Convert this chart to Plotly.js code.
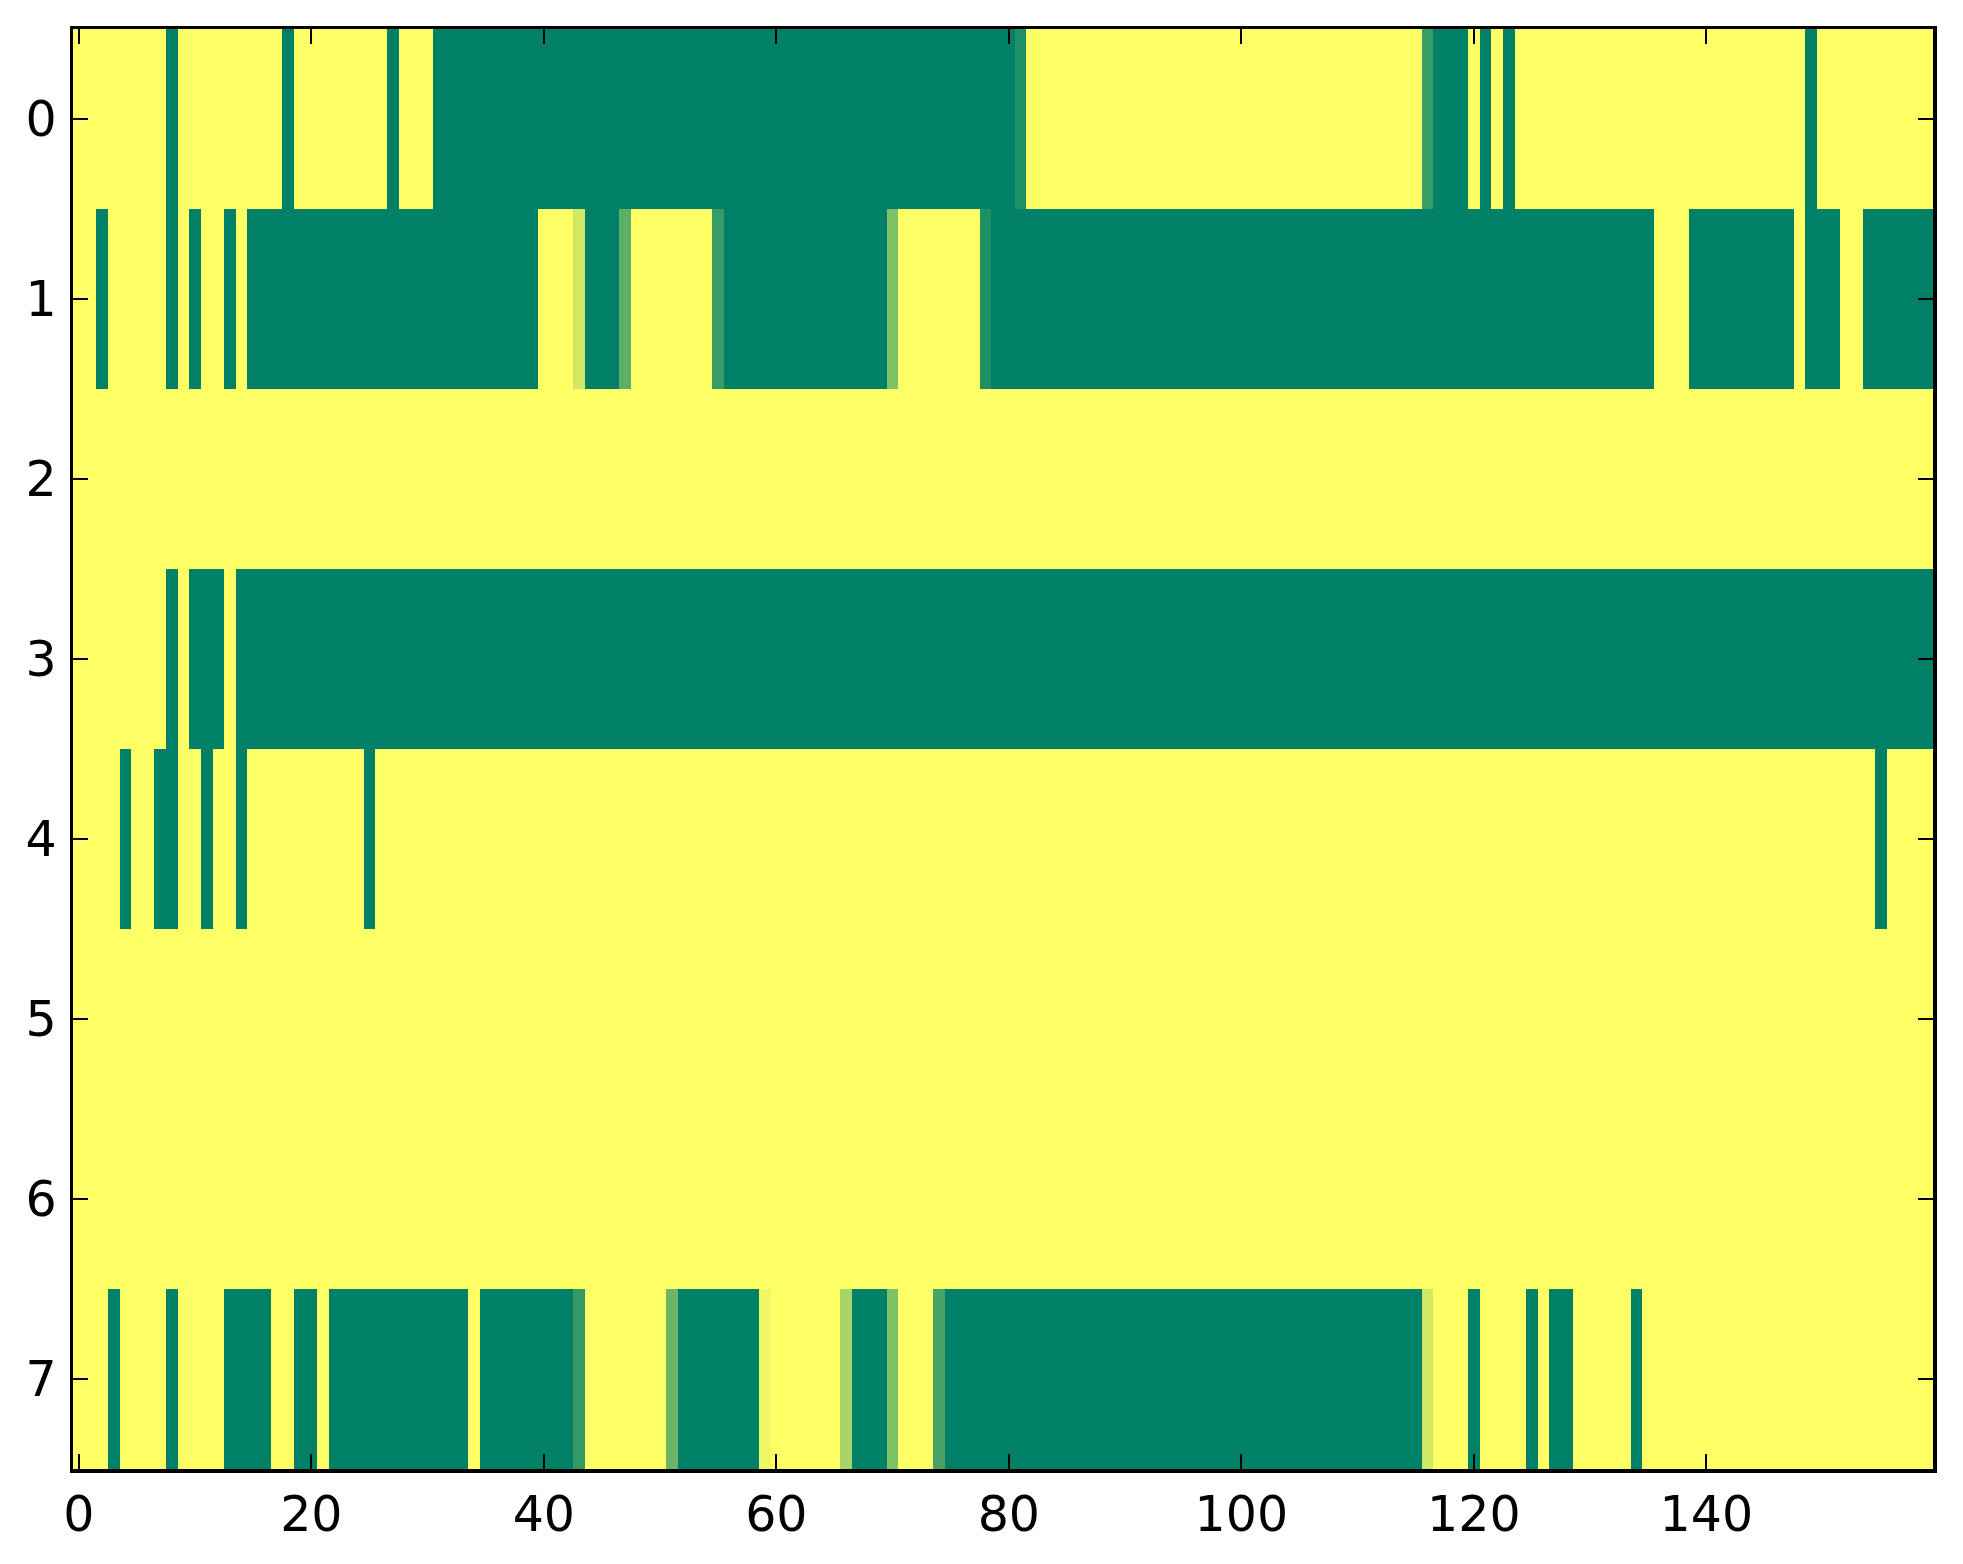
<!DOCTYPE html>
<html>
<head>
<meta charset="utf-8">
<script src="https://cdn.plot.ly/plotly-3.0.1.min.js"></script>
<style>
  html, body { margin: 0; padding: 0; background: #ffffff; }
  #chart { width: 1963px; height: 1564px; }
</style>
</head>
<body>
<div id="chart"></div>
<script>
// Row values (0 = green end, 1 = yellow end of the "summer" colormap), columns 0..159
const row0 = [
  1,1,1,1,1,1,1,1,0,1, 1,1,1,1,1,1,1,1,0,1,
  1,1,1,1,1,1,1,0,1,1, 1,0,0,0,0,0,0,0,0,0,
  0,0,0,0,0,0,0,0,0,0, 0,0,0,0,0,0,0,0,0,0,
  0,0,0,0,0,0,0,0,0,0, 0,0,0,0,0,0,0,0,0,0,
  0,0.12,1,1,1,1,1,1,1,1, 1,1,1,1,1,1,1,1,1,1,
  1,1,1,1,1,1,1,1,1,1, 1,1,1,1,1,1,0.22,0,0,0,
  1,0,1,0,1,1,1,1,1,1, 1,1,1,1,1,1,1,1,1,1,
  1,1,1,1,1,1,1,1,1,0, 1,1,1,1,1,1,1,1,1,1
];
const row1 = [
  1,1,0,1,1,1,1,1,0,1, 0,1,1,0,1,0,0,0,0,0,
  0,0,0,0,0,0,0,0,0,0, 0,0,0,0,0,0,0,0,0,0,
  1,1,1,0.82,0,0,0,0.37,1,1, 1,1,1,1,1,0.22,0,0,0,0,
  0,0,0,0,0,0,0,0,0,0, 0.5,1,1,1,1,1,1,1,0.12,0,
  0,0,0,0,0,0,0,0,0,0, 0,0,0,0,0,0,0,0,0,0,
  0,0,0,0,0,0,0,0,0,0, 0,0,0,0,0,0,0,0,0,0,
  0,0,0,0,0,0,0,0,0,0, 0,0,0,0,0,0,1,1,1,0,
  0,0,0,0,0,0,0,0,1,0, 0,0,1,1,0,0,0,0,0,0
];
const row2 = [
  1,1,1,1,1,1,1,1,1,1, 1,1,1,1,1,1,1,1,1,1,
  1,1,1,1,1,1,1,1,1,1, 1,1,1,1,1,1,1,1,1,1,
  1,1,1,1,1,1,1,1,1,1, 1,1,1,1,1,1,1,1,1,1,
  1,1,1,1,1,1,1,1,1,1, 1,1,1,1,1,1,1,1,1,1,
  1,1,1,1,1,1,1,1,1,1, 1,1,1,1,1,1,1,1,1,1,
  1,1,1,1,1,1,1,1,1,1, 1,1,1,1,1,1,1,1,1,1,
  1,1,1,1,1,1,1,1,1,1, 1,1,1,1,1,1,1,1,1,1,
  1,1,1,1,1,1,1,1,1,1, 1,1,1,1,1,1,1,1,1,1
];
const row3 = [
  1,1,1,1,1,1,1,1,0,1, 0,0,0,1,0,0,0,0,0,0,
  0,0,0,0,0,0,0,0,0,0, 0,0,0,0,0,0,0,0,0,0,
  0,0,0,0,0,0,0,0,0,0, 0,0,0,0,0,0,0,0,0,0,
  0,0,0,0,0,0,0,0,0,0, 0,0,0,0,0,0,0,0,0,0,
  0,0,0,0,0,0,0,0,0,0, 0,0,0,0,0,0,0,0,0,0,
  0,0,0,0,0,0,0,0,0,0, 0,0,0,0,0,0,0,0,0,0,
  0,0,0,0,0,0,0,0,0,0, 0,0,0,0,0,0,0,0,0,0,
  0,0,0,0,0,0,0,0,0,0, 0,0,0,0,0,0,0,0,0,0
];
const row4 = [
  1,1,1,1,0,1,1,0,0,1, 1,0,1,1,0,1,1,1,1,1,
  1,1,1,1,1,0,1,1,1,1, 1,1,1,1,1,1,1,1,1,1,
  1,1,1,1,1,1,1,1,1,1, 1,1,1,1,1,1,1,1,1,1,
  1,1,1,1,1,1,1,1,1,1, 1,1,1,1,1,1,1,1,1,1,
  1,1,1,1,1,1,1,1,1,1, 1,1,1,1,1,1,1,1,1,1,
  1,1,1,1,1,1,1,1,1,1, 1,1,1,1,1,1,1,1,1,1,
  1,1,1,1,1,1,1,1,1,1, 1,1,1,1,1,1,1,1,1,1,
  1,1,1,1,1,1,1,1,1,1, 1,1,1,1,1,0,1,1,1,1
];
const row5 = [
  1,1,1,1,1,1,1,1,1,1, 1,1,1,1,1,1,1,1,1,1,
  1,1,1,1,1,1,1,1,1,1, 1,1,1,1,1,1,1,1,1,1,
  1,1,1,1,1,1,1,1,1,1, 1,1,1,1,1,1,1,1,1,1,
  1,1,1,1,1,1,1,1,1,1, 1,1,1,1,1,1,1,1,1,1,
  1,1,1,1,1,1,1,1,1,1, 1,1,1,1,1,1,1,1,1,1,
  1,1,1,1,1,1,1,1,1,1, 1,1,1,1,1,1,1,1,1,1,
  1,1,1,1,1,1,1,1,1,1, 1,1,1,1,1,1,1,1,1,1,
  1,1,1,1,1,1,1,1,1,1, 1,1,1,1,1,1,1,1,1,1
];
const row6 = [
  1,1,1,1,1,1,1,1,1,1, 1,1,1,1,1,1,1,1,1,1,
  1,1,1,1,1,1,1,1,1,1, 1,1,1,1,1,1,1,1,1,1,
  1,1,1,1,1,1,1,1,1,1, 1,1,1,1,1,1,1,1,1,1,
  1,1,1,1,1,1,1,1,1,1, 1,1,1,1,1,1,1,1,1,1,
  1,1,1,1,1,1,1,1,1,1, 1,1,1,1,1,1,1,1,1,1,
  1,1,1,1,1,1,1,1,1,1, 1,1,1,1,1,1,1,1,1,1,
  1,1,1,1,1,1,1,1,1,1, 1,1,1,1,1,1,1,1,1,1,
  1,1,1,1,1,1,1,1,1,1, 1,1,1,1,1,1,1,1,1,1
];
const row7 = [
  1,1,1,0,1,1,1,1,0,1, 1,1,1,0,0,0,0,1,1,0,
  0,1,0,0,0,0,0,0,0,0, 0,0,0,0,1,0,0,0,0,0,
  0,0,0,0.2,1,1,1,1,1,1, 1,0.42,0,0,0,0,0,0,0,0.94,
  1,1,1,1,1,1,0.66,0,0,0, 0.5,1,1,1,0.28,0,0,0,0,0,
  0,0,0,0,0,0,0,0,0,0, 0,0,0,0,0,0,0,0,0,0,
  0,0,0,0,0,0,0,0,0,0, 0,0,0,0,0,0,0.82,1,1,1,
  0,1,1,1,1,0,1,0,0,1, 1,1,1,1,0,1,1,1,1,1,
  1,1,1,1,1,1,1,1,1,1, 1,1,1,1,1,1,1,1,1,1
];

const rowLabels = [0, 1, 2, 3, 4, 5, 6, 7];
const xTickVals = [0, 20, 40, 60, 80, 100, 120, 140];

const zData = [row0, row1, row2, row3, row4, row5, row6, row7];
const nCols = row0.length;

const summer = [[0, 'rgb(0,128,102)'], [1, 'rgb(255,255,102)']];

const axisFont = { family: 'DejaVu Sans, sans-serif', size: 49, color: '#000000' };

const commonAxis = {
  showgrid: false,
  zeroline: false,
  showline: true,
  linecolor: '#000000',
  linewidth: 3.5,
  mirror: 'ticks',
  ticks: 'inside',
  ticklen: 15,
  tickwidth: 2,
  tickcolor: '#000000',
  tickfont: axisFont,
  fixedrange: true
};

const trace = {
  type: 'heatmap',
  z: zData,
  y: rowLabels,
  colorscale: summer,
  zmin: 0,
  zmax: 1,
  showscale: false,
  hoverinfo: 'skip',
  xgap: 0,
  ygap: 0
};

const layout = {
  width: 1963,
  height: 1564,
  margin: { l: 73, r: 30, t: 29, b: 95, pad: 0 },
  paper_bgcolor: '#ffffff',
  plot_bgcolor: '#ffffff',
  showlegend: false,
  xaxis: Object.assign({}, commonAxis, {
    range: [-0.5, nCols - 0.5],
    tickmode: 'array',
    tickvals: xTickVals,
    ticktext: xTickVals.map(String),
    ticklabelstandoff: 0
  }),
  yaxis: Object.assign({}, commonAxis, {
    range: [rowLabels.length - 0.5, -0.5],
    tickmode: 'array',
    tickvals: rowLabels,
    ticktext: rowLabels.map(String),
    ticklabelstandoff: 3
  })
};

Plotly.newPlot('chart', [trace], layout, { staticPlot: true, displayModeBar: false });
</script>
</body>
</html>
